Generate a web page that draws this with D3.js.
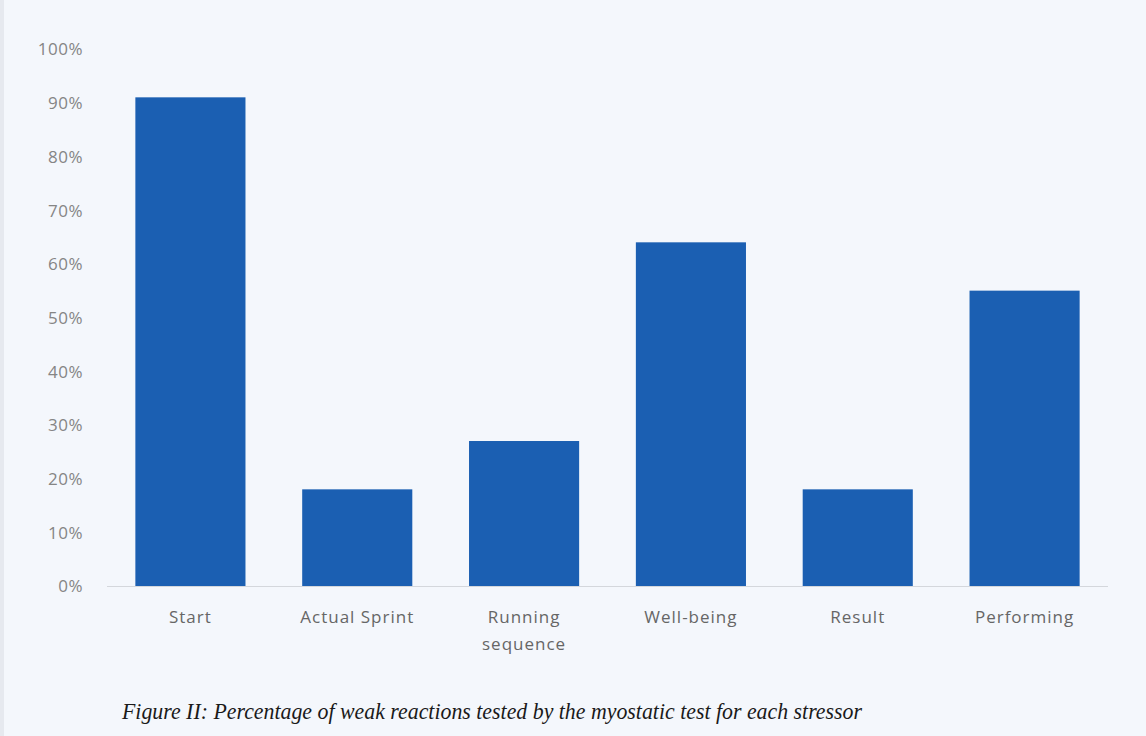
<!DOCTYPE html>
<html>
<head>
<meta charset="utf-8">
<script src="https://cdn.jsdelivr.net/npm/d3@7"></script>
<style>
html,body{margin:0;padding:0;background:#f4f7fc;}
svg{display:block;}
</style>
</head>
<body>
<svg id="chart" width="1146" height="736"></svg>
<script>
const categories = [["Start"], ["Actual Sprint"], ["Running", "sequence"], ["Well-being"], ["Result"], ["Performing"]];
const values = [0.91, 0.18, 0.27, 0.64, 0.18, 0.55];
const yTicks = [0, 0.1, 0.2, 0.3, 0.4, 0.5, 0.6, 0.7, 0.8, 0.9, 1.0];
const caption = "Figure II:  Percentage of weak reactions tested by the myostatic test for each stressor";

const svg = d3.select("#chart");
const W = 1146, H = 736;
const m = {left: 107, right: 38, top: 49, bottom: 150};

svg.append("rect").attr("width", W).attr("height", H).attr("fill", "#f4f7fc");
svg.append("rect").attr("x", 0).attr("y", 0).attr("width", 4).attr("height", H).attr("fill", "#e6e9ef");

const labels = categories.map(c => c.join(" "));
const x = d3.scaleBand().domain(labels).range([m.left, W - m.right]).paddingInner(0.34).paddingOuter(0.17);
const y = d3.scaleLinear().domain([0, 1]).range([H - m.bottom, m.top]);

// baseline
svg.append("line")
  .attr("x1", m.left).attr("x2", W - m.right)
  .attr("y1", y(0) + 0.5).attr("y2", y(0) + 0.5)
  .attr("stroke", "#d4d7dc").attr("stroke-width", 1);

// bars
svg.append("g").selectAll("rect").data(values).join("rect")
  .attr("x", (d, i) => x(labels[i]))
  .attr("width", x.bandwidth())
  .attr("y", d => y(d))
  .attr("height", d => y(0) - y(d))
  .attr("fill", "#1b5fb2");

// y axis
const yAxis = d3.axisLeft(y).tickValues(yTicks).tickFormat(d3.format(".0%")).tickSize(0).tickPadding(0);
const gy = svg.append("g").attr("transform", `translate(83,0)`).call(yAxis);
gy.select(".domain").remove();
gy.selectAll("text").attr("font-family", "'Open Sans', Lato, sans-serif").attr("font-size", 17)
  .attr("letter-spacing", "0.5px")
  .attr("fill", "#858585").attr("dy", "0.35em");

// x axis labels
const gx = svg.append("g");
categories.forEach((lines, i) => {
  const cx = x(labels[i]) + x.bandwidth() / 2;
  const t = gx.append("text").attr("x", cx).attr("y", 623)
    .attr("text-anchor", "middle")
    .attr("font-family", "'Open Sans', Lato, sans-serif").attr("font-size", 17)
    .attr("letter-spacing", "1px")
    .attr("fill", "#666");
  lines.forEach((ln, j) => {
    t.append("tspan").attr("x", cx).attr("dy", j === 0 ? 0 : 27).text(ln);
  });
});

// caption
svg.append("text").attr("x", 492).attr("y", 719)
  .attr("text-anchor", "middle")
  .attr("font-family", "'Liberation Serif', 'Times New Roman', serif")
  .attr("font-style", "italic").attr("font-size", 24)
  .attr("fill", "#1a1a1a")
  .attr("textLength", 740).attr("lengthAdjust", "spacingAndGlyphs")
  .text(caption);
</script>
</body>
</html>
